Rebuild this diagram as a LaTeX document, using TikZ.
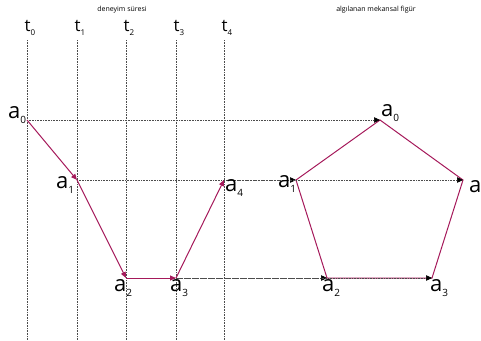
\documentclass[tikz,border=0pt]{standalone}
\usepackage{fontspec}
\setmainfont{Open Sans}
\usetikzlibrary{arrows.meta,positioning}
\definecolor{plum}{RGB}{165,25,90}
\newcommand{\apt}[1]{{\fontsize{22}{22}\selectfont a}\raisebox{-5pt}{\fontsize{10}{10}\selectfont #1}}
\newcommand{\tpt}[1]{{\fontsize{17}{17}\selectfont t}\raisebox{-4pt}{\fontsize{8}{8}\selectfont #1}}

\begin{document}
\begin{tikzpicture}[x=1pt,y=-1pt,
 grid/.style={densely dotted,black!70,line width=0.6pt},
 link/.style={grid,-{Triangle[length=6pt,width=5.5pt,color=black]}},
 move/.style={plum,line width=1pt,-{Triangle[length=6pt,width=5pt]}},
 side/.style={plum,line width=1pt,line join=miter},
 lbl/.style={inner sep=0pt}]
\useasboundingbox (0,0) rectangle (481,340);
\node (title1) at (122,10) {\fontsize{7}{8}\selectfont deneyim süresi};
\node (title2) at (376,10) {\fontsize{7}{8}\selectfont algılanan mekansal figür};
% time axis
\foreach \i/\x in {0/27,1/77,2/126,3/176,4/224} {
 \node[lbl] (t\i) at (\x+3,28) {\tpt{\i}};
 \draw[grid] (\x,40) -- (\x,340);
}
% points: experienced (p) and perceived (q)
\coordinate (p0) at (27,120); \coordinate (p1) at (77,180); \coordinate (p2) at (126,278);
\coordinate (p3) at (176,278); \coordinate (p4) at (224,180);
\coordinate (q0) at (380,120); \coordinate (q1) at (296,180); \coordinate (q2) at (327,278);
\coordinate (q3) at (432,278); \coordinate (q4) at (463,180);
\draw[side] (q0)--(q1)--(q2)--(q3)--(q4)--cycle;
\foreach \i in {0,...,4} \draw[link] (p\i) -- (q\i);
\foreach \a/\b in {0/1,1/2,2/3,3/4} \draw[move] (p\a) -- (p\b);
% labels
\node[lbl] (la0) at (17,115) {\apt{0}};
\node[lbl] (la1) at (65,185) {\apt{1}};
\node[lbl] (la2) at (123,288) {\apt{2}};
\node[lbl] (la3) at (179,288) {\apt{3}};
\node[lbl] (la4) at (234,188) {\apt{4}};
\node[lbl] (lb0) at (390,113) {\apt{0}};
\node[lbl] (lb1) at (287,184) {\apt{1}};
\node[lbl] (lb2) at (331,288) {\apt{2}};
\node[lbl] (lb3) at (439,288) {\apt{3}};
\node[lbl] (lb4) at (478,189) {\apt{4}};
\end{tikzpicture}
\end{document}
